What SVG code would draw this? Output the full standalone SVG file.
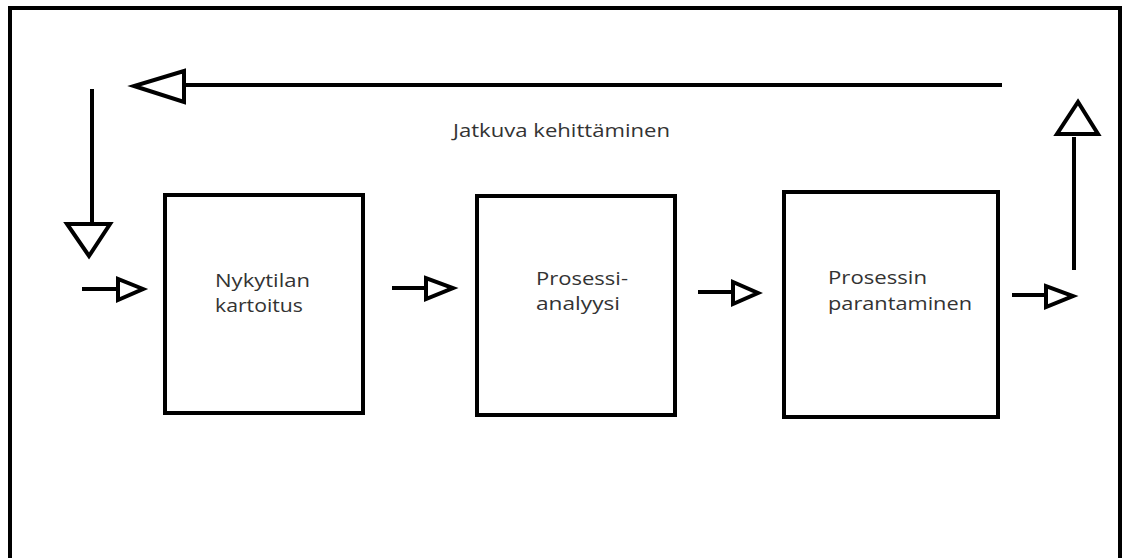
<svg xmlns="http://www.w3.org/2000/svg" width="1127" height="558" viewBox="0 0 1127 558">
<style>
.frame{fill:none;stroke:#000;stroke-width:4}
.box{fill:#fff;stroke:#000;stroke-width:4}
.ln{stroke:#000;stroke-width:4;fill:none}
.head{fill:#fff;stroke:#000;stroke-width:4;stroke-linejoin:miter}
.t{font-family:"Open Sans","Noto Sans",sans-serif;font-size:19px;fill:#333}
</style>
<rect width="1127" height="558" fill="#fff"/>
<path class="frame" d="M10,560 V8 H1120 V560"/>
<g id="connectors">
  <line class="ln" x1="1002" y1="85" x2="184" y2="85"/>
  <polygon class="head" points="184,71 184,102 134,86"/>
  <line class="ln" x1="92" y1="89" x2="92" y2="222"/>
  <polygon class="head" points="67,224 110,224 89,256"/>
  <line class="ln" x1="82" y1="289" x2="118" y2="289"/>
  <polygon class="head" points="118,279 118,300 143,289"/>
  <line class="ln" x1="392" y1="288" x2="426" y2="288"/>
  <polygon class="head" points="426,278 426,299 453,288"/>
  <line class="ln" x1="698" y1="292" x2="733" y2="292"/>
  <polygon class="head" points="733,282 733,304 758,293"/>
  <line class="ln" x1="1012" y1="295" x2="1046" y2="295"/>
  <polygon class="head" points="1046,286 1046,307 1073,296"/>
  <line class="ln" x1="1074" y1="270" x2="1074" y2="137"/>
  <polygon class="head" points="1057,134 1098,134 1078,102"/>
</g>
<g id="label-loop"><text class="t" x="453" y="137" textLength="217" lengthAdjust="spacingAndGlyphs">Jatkuva kehittäminen</text></g>
<g id="node1">
  <rect class="box" x="165" y="195" width="198" height="218"/>
  <text class="t" x="215" y="287" textLength="95" lengthAdjust="spacingAndGlyphs">Nykytilan</text>
  <text class="t" x="215" y="312" textLength="88" lengthAdjust="spacingAndGlyphs">kartoitus</text>
</g>
<g id="node2">
  <rect class="box" x="477" y="196" width="198" height="219"/>
  <text class="t" x="536" y="285" textLength="92" lengthAdjust="spacingAndGlyphs">Prosessi-</text>
  <text class="t" x="536" y="310" textLength="84" lengthAdjust="spacingAndGlyphs">analyysi</text>
</g>
<g id="node3">
  <rect class="box" x="784" y="192" width="214" height="225"/>
  <text class="t" x="828" y="284" textLength="99" lengthAdjust="spacingAndGlyphs">Prosessin</text>
  <text class="t" x="828" y="310" textLength="144" lengthAdjust="spacingAndGlyphs">parantaminen</text>
</g>
</svg>
